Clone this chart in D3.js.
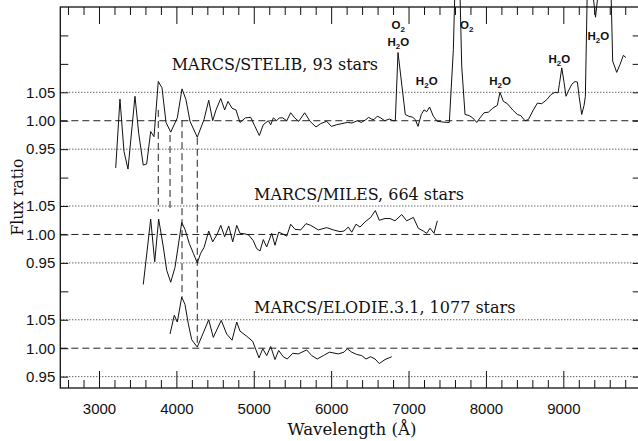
<!DOCTYPE html>
<html>
<head>
<meta charset="utf-8">
<script src="https://cdn.jsdelivr.net/npm/d3@7"></script>
<style>
  body { margin: 0; background: #fff; }
  .tick text { font-family: "Liberation Sans", Arial, sans-serif; font-size: 15px; fill: #111; }
</style>
</head>
<body>
<div id="chart"></div>
<script>
// MARCS/STELIB flux ratio (top panel)
var stelibWave = [3216, 3271, 3323, 3375, 3465, 3513, 3572, 3616, 3668, 3711, 3766, 3814, 3866, 3927, 4012,
  4073, 4124, 4176, 4270, 4357, 4418, 4469, 4512, 4573, 4624, 4667, 4719, 4770, 4822, 4891, 4960, 5012,
  5072, 5123, 5188, 5219, 5253, 5296, 5330, 5374, 5426, 5477, 5529, 5581, 5658, 5727, 5804, 5865, 5943,
  6002, 6072, 6140, 6209, 6270, 6338, 6390, 6450, 6485, 6519, 6554, 6596, 6640, 6692, 6752, 6803, 6829,
  6864, 6925, 6958, 7002, 7054, 7088, 7122, 7165, 7200, 7235, 7272, 7320, 7372, 7429, 7493, 7527, 7579,
  7613, 7652, 7687, 7730, 7785, 7829, 7881, 7924, 7975, 8031, 8088, 8147, 8182, 8225, 8277, 8346, 8406,
  8450, 8505, 8548, 8613, 8665, 8721, 8786, 8841, 8893, 8932, 8949, 8980, 9010, 9035, 9065, 9109, 9152,
  9182, 9204, 9238, 9268, 9285, 9319, 9416, 9513, 9604, 9638, 9690, 9733, 9776, 9810];
var stelibRatio = [0.917, 1.038, 0.946, 0.915, 1.043, 0.978, 0.922, 0.924, 0.981, 0.972, 1.069, 1.058, 0.997, 0.980, 1.005,
  1.056, 1.037, 0.999, 0.971, 1.002, 1.036, 1.000, 1.019, 1.039, 1.019, 1.034, 1.022, 1.019, 0.997, 1.005, 1.006, 0.991,
  0.974, 0.993, 1.000, 0.993, 1.005, 1.000, 1.005, 1.005, 1.000, 1.014, 1.005, 0.999, 1.014, 0.999, 0.989, 0.995, 0.999,
  0.990, 0.993, 0.995, 0.997, 0.996, 1.000, 0.997, 1.002, 1.006, 1.003, 1.002, 1.008, 1.005, 1.000, 1.003, 1.000, 1.000,
  1.120, 1.049, 1.011, 1.008, 1.006, 1.002, 0.990, 1.011, 1.019, 1.016, 1.024, 1.008, 0.999, 0.998, 0.997, 0.997, 1.125,
  1.300, 1.300, 1.096, 1.011, 1.009, 1.005, 0.997, 1.005, 1.014, 1.015, 1.022, 1.027, 1.050, 1.034, 1.030, 1.019, 1.011,
  1.009, 1.000, 1.002, 1.019, 1.031, 1.030, 1.037, 1.046, 1.050, 1.049, 1.064, 1.093, 1.067, 1.043, 1.052, 1.064, 1.069,
  1.068, 1.043, 1.011, 1.027, 1.043, 1.300, 1.182, 1.300, 1.300, 1.105, 1.085, 1.099, 1.115, 1.111];

// MARCS/MILES flux ratio (middle panel)
var milesWave = [3572, 3668, 3720, 3771, 3831, 3875, 3927, 3982, 4069, 4111, 4167, 4219, 4270, 4314, 4357,
  4418, 4469, 4529, 4573, 4624, 4676, 4728, 4780, 4822, 4887, 4935, 4994, 5038, 5081, 5123, 5167, 5232,
  5274, 5322, 5374, 5426, 5477, 5533, 5607, 5675, 5736, 5834, 5943, 6028, 6114, 6166, 6222, 6266, 6321,
  6373, 6438, 6511, 6571, 6622, 6696, 6761, 6825, 6912, 6976, 7062, 7126, 7191, 7235, 7278, 7329, 7372];
var milesRatio = [0.912, 1.027, 0.952, 1.027, 0.978, 0.937, 0.916, 0.942, 1.021, 1.009, 0.984, 0.967, 0.950, 0.967, 0.977,
  1.006, 0.987, 1.001, 1.016, 0.996, 1.015, 0.987, 1.016, 1.002, 1.001, 0.999, 0.989, 0.975, 0.971, 0.991, 0.978, 1.002,
  0.981, 1.004, 1.001, 0.997, 1.018, 1.009, 1.008, 1.019, 1.016, 1.008, 1.012, 1.008, 1.005, 1.006, 1.013, 1.004, 1.018,
  1.013, 1.022, 1.030, 1.042, 1.025, 1.028, 1.028, 1.024, 1.035, 1.024, 1.030, 1.011, 1.006, 1.002, 1.011, 1.002, 1.024];

// MARCS/ELODIE.3.1 flux ratio (bottom panel)
var elodieWave = [3918, 3973, 4012, 4069, 4111, 4154, 4198, 4270, 4348, 4418, 4477, 4580, 4650, 4719, 4780,
  4822, 4909, 4986, 5068, 5116, 5167, 5219, 5274, 5322, 5381, 5433, 5503, 5576, 5684, 5749, 5821, 5899,
  5977, 6093, 6166, 6209, 6266, 6330, 6395, 6450, 6511, 6567, 6622, 6696, 6783];
var elodieRatio = [1.025, 1.058, 1.046, 1.090, 1.077, 1.043, 1.015, 1.002, 1.027, 1.050, 1.019, 1.049, 1.025, 1.014, 1.046,
  1.030, 1.021, 1.012, 0.983, 0.999, 0.987, 1.003, 0.980, 0.996, 0.985, 0.981, 0.991, 0.990, 0.997, 0.987, 0.981, 0.987,
  0.993, 0.990, 0.993, 0.999, 0.993, 0.989, 0.987, 0.981, 0.985, 0.981, 0.973, 0.980, 0.985];

var panelLabels = ["MARCS/STELIB, 93 stars", "MARCS/MILES, 664 stars", "MARCS/ELODIE.3.1, 1077 stars"];
var panelOffsets = [0.4, 0.2, 0];
var refLevels = [0.95, 1.00, 1.05];

// vertical marker lines (wavelength, top and bottom value on the stacked scale)
var markerWave = [3766, 3918, 4073, 4270];
var markerTop = [1.419, 1.375, 1.401, 1.370];
var markerBottom = [1.240, 1.240, 1.090, 1.004];

// telluric band labels
var bandName = ["O2", "H2O", "H2O", "O2", "H2O", "H2O", "H2O"];
var bandWave = [6867, 6867, 7235, 7752, 8182, 8949, 9452];
var bandLevel = [1.561, 1.531, 1.463, 1.561, 1.463, 1.502, 1.542];

var svgWidth = 638;
var svgHeight = 441;

var svg = d3.select("#chart")
  .append("svg")
  .attr("width", svgWidth)
  .attr("height", svgHeight);

var x = d3.scaleLinear().domain([2500, 10000]).range([60.3, 640.7]);
var y = d3.scaleLinear().domain([0.93, 1.60]).range([388, 7]);

var panels = panelLabels.map(function(name, i) {
  var wave = [stelibWave, milesWave, elodieWave][i];
  var ratio = [stelibRatio, milesRatio, elodieRatio][i];
  return {
    name: name,
    offset: panelOffsets[i],
    points: wave.map(function(w, j) { return { w: w, r: ratio[j] }; })
  };
});

// reference lines
panels.forEach(function(p) {
  refLevels.forEach(function(lv) {
    svg.append("line")
      .attr("x1", x(2500)).attr("x2", x(10000))
      .attr("y1", y(lv + p.offset)).attr("y2", y(lv + p.offset))
      .attr("stroke", "#222")
      .attr("stroke-width", 1)
      .attr("stroke-dasharray", lv === 1 ? "7,4" : "1,2");
  });
});

// axes
var yTicks = d3.range(0, 13).map(function(i) { return +(0.95 + i * 0.05).toFixed(2); });

function yLabel(v) {
  for (var i = 0; i < panelOffsets.length; i++) {
    var r = v - panelOffsets[i];
    if (Math.abs(r - 1) < 0.06) return r.toFixed(2);
  }
  return "";
}

svg.append("g")
  .attr("transform", "translate(" + x(2500) + ",0)")
  .call(d3.axisLeft(y).tickValues(yTicks).tickSize(-8).tickSizeOuter(0).tickPadding(5).tickFormat(yLabel))
  .call(function(g) { g.select(".domain").remove(); });

svg.append("g")
  .attr("transform", "translate(" + x(10000) + ",0)")
  .call(d3.axisRight(y).tickValues(yTicks).tickSize(-8).tickSizeOuter(0).tickFormat(""))
  .call(function(g) { g.select(".domain").remove(); });

var majorX = d3.range(3000, 10001, 1000);
var minorX = d3.range(2600, 10000, 200).filter(function(v) { return v % 1000 !== 0; });

svg.append("g")
  .attr("transform", "translate(0,388)")
  .call(d3.axisBottom(x).tickValues(minorX).tickSize(-8).tickSizeOuter(0).tickFormat(""))
  .call(function(g) { g.select(".domain").remove(); });

svg.append("g")
  .attr("transform", "translate(0,388)")
  .call(d3.axisBottom(x).tickValues(majorX).tickSize(-17).tickSizeOuter(0).tickPadding(15)
    .tickFormat(function(v) { return v < 10000 ? d3.format("d")(v) : ""; }))
  .call(function(g) { g.select(".domain").remove(); });

svg.append("g")
  .attr("transform", "translate(0,7)")
  .call(d3.axisTop(x).tickValues(minorX).tickSize(-8).tickSizeOuter(0).tickFormat(""))
  .call(function(g) { g.select(".domain").remove(); });

svg.append("g")
  .attr("transform", "translate(0,7)")
  .call(d3.axisTop(x).tickValues(majorX).tickSize(-17).tickSizeOuter(0).tickFormat(""))
  .call(function(g) { g.select(".domain").remove(); });

svg.selectAll(".tick line").attr("stroke", "#111");

// frame
svg.append("rect")
  .attr("x", x(2500))
  .attr("y", y(1.60))
  .attr("width", x(10000) - x(2500))
  .attr("height", y(0.93) - y(1.60))
  .attr("fill", "none")
  .attr("stroke", "#111")
  .attr("stroke-width", 1.3);

// marker lines
markerWave.forEach(function(w, i) {
  svg.append("line")
    .attr("x1", x(w)).attr("x2", x(w))
    .attr("y1", y(markerTop[i])).attr("y2", y(markerBottom[i]))
    .attr("stroke", "#222")
    .attr("stroke-width", 1)
    .attr("stroke-dasharray", "7,4");
});

// curves
panels.forEach(function(p) {
  var line = d3.line()
    .x(function(d) { return x(d.w); })
    .y(function(d) { return y(d.r + p.offset); });

  svg.append("path")
    .datum(p.points)
    .attr("d", line)
    .attr("fill", "none")
    .attr("stroke", "#111")
    .attr("stroke-width", 1)
    .attr("stroke-linejoin", "miter");
});

// panel labels
var labelWave = [3940, 5004, 5004];
var labelLevel = [1.089, 1.061, 1.062];
panels.forEach(function(p, i) {
  svg.append("text")
    .attr("x", x(labelWave[i]))
    .attr("y", y(labelLevel[i] + p.offset))
    .attr("font-family", "'DejaVu Serif', serif")
    .attr("font-size", 16)
    .attr("fill", "#111")
    .text(p.name);
});

// band labels with subscript 2
bandName.forEach(function(b, i) {
  var t = svg.append("text")
    .attr("x", x(bandWave[i]))
    .attr("y", y(bandLevel[i]))
    .attr("text-anchor", "middle")
    .attr("font-family", "'Liberation Sans', Arial, sans-serif")
    .attr("font-weight", "bold")
    .attr("font-size", 11.5)
    .attr("fill", "#111");
  if (b === "O2") {
    t.append("tspan").text("O");
    t.append("tspan").attr("font-size", 8).attr("dy", 3).text("2");
  } else {
    t.append("tspan").text("H");
    t.append("tspan").attr("font-size", 8).attr("dy", 3).text("2");
    t.append("tspan").attr("dy", -3).text("O");
  }
});

// axis titles
svg.append("text")
  .attr("x", 352)
  .attr("y", 435)
  .attr("text-anchor", "middle")
  .attr("font-family", "'DejaVu Serif', serif")
  .attr("font-size", 17)
  .attr("textLength", 129)
  .attr("lengthAdjust", "spacingAndGlyphs")
  .attr("fill", "#111")
  .text("Wavelength (Å)");

svg.append("text")
  .attr("transform", "translate(23,197) rotate(-90)")
  .attr("text-anchor", "middle")
  .attr("font-family", "'DejaVu Serif', serif")
  .attr("font-size", 16)
  .attr("textLength", 77)
  .attr("lengthAdjust", "spacingAndGlyphs")
  .attr("fill", "#111")
  .text("Flux ratio");
</script>
</body>
</html>
